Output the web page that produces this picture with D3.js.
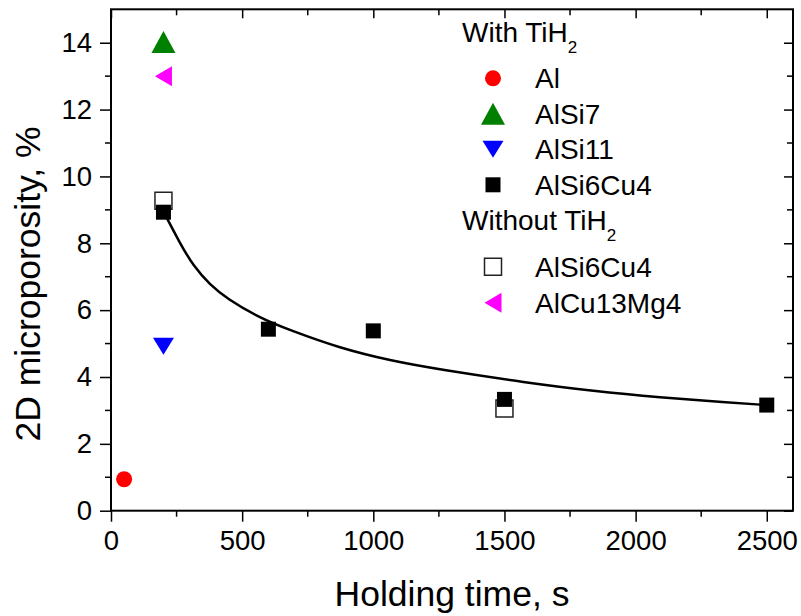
<!DOCTYPE html>
<html>
<head>
<meta charset="utf-8">
<script src="https://cdn.jsdelivr.net/npm/d3@7/dist/d3.min.js"></script>
<style>
  body { margin: 0; background: #fff; }
  text { font-family: 'Liberation Sans', Arial, sans-serif; fill: #000; }
</style>
</head>
<body>
<div id="chart"></div>
<script>
// values
const alTime = [50],       alPor = [0.94];
const alsi7Time = [200],   alsi7Por = [14.02];
const alsi11Time = [200],  alsi11Por = [4.92];
const cu4Time = [200, 600, 1000, 1500, 2500];
const cu4Por  = [8.93, 5.43, 5.38, 3.33, 3.16];
const cu4NoTiTime = [200, 1500];
const cu4NoTiPor  = [9.27, 3.06];
const cuMgTime = [200],    cuMgPor = [13.0];
// fitted curve
const fitTime = [200, 263, 314, 377, 441, 568, 682, 873, 1064, 1254, 1585, 1839, 2093, 2347, 2500];
const fitPor  = [8.95, 8.0, 7.32, 6.76, 6.35, 5.76, 5.40, 4.86, 4.49, 4.22, 3.83, 3.58, 3.39, 3.24, 3.16];

const xMajor = [0, 500, 1000, 1500, 2000, 2500];
const xMinor = [250, 750, 1250, 1750, 2250];
const yMajor = [0, 2, 4, 6, 8, 10, 12, 14];
const yMinor = [1, 3, 5, 7, 9, 11, 13];

const W = 801, H = 616;
const margin = {top: 9.3, right: 8, bottom: 105.3, left: 111},
  width = W - margin.left - margin.right,
  height = H - margin.top - margin.bottom;

const x = d3.scaleLinear().domain([0, 2600]).range([0, width]);
const y = d3.scaleLinear().domain([0, 15]).range([height, 0]);

const svgTop = d3.select('#chart').append('svg')
  .attr('width', W).attr('height', H);
const svg = svgTop.append('g')
  .attr('transform', `translate(${margin.left},${margin.top})`);

// axes: bottom / left ticks outward, top / right inward
const tickFont = 27.5;
const fmt = d3.format('d');
svg.append('g')
  .attr('transform', `translate(0,${height})`)
  .call(d3.axisBottom(x).tickValues(xMajor).tickFormat(fmt).tickSizeInner(11).tickSizeOuter(0).tickPadding(9))
  .call(g => g.append('g').selectAll('line').data(xMinor).join('line')
    .attr('x1', x).attr('x2', x).attr('y1', 0).attr('y2', 6).attr('stroke', '#000'));
svg.append('g')
  .call(d3.axisLeft(y).tickValues(yMajor).tickFormat(fmt).tickSizeInner(11).tickSizeOuter(0).tickPadding(8))
  .call(g => g.append('g').selectAll('line').data(yMinor).join('line')
    .attr('y1', y).attr('y2', y).attr('x1', 0).attr('x2', -6).attr('stroke', '#000'));
svg.append('g')
  .call(d3.axisTop(x).tickValues(xMajor).tickSizeInner(-9).tickSizeOuter(0).tickFormat(''))
  .call(g => g.append('g').selectAll('line').data(xMinor).join('line')
    .attr('x1', x).attr('x2', x).attr('y1', 0).attr('y2', 6).attr('stroke', '#000'));
svg.append('g')
  .attr('transform', `translate(${width},0)`)
  .call(d3.axisRight(y).tickValues(yMajor).tickSizeInner(-9).tickSizeOuter(0).tickFormat(''))
  .call(g => g.append('g').selectAll('line').data(yMinor).join('line')
    .attr('y1', y).attr('y2', y).attr('x1', 0).attr('x2', -6).attr('stroke', '#000'));

svg.selectAll('.domain').remove();
svg.selectAll('line').attr('stroke', '#000').attr('stroke-width', 1.5);
svg.selectAll('.tick text').style('font-size', tickFont + 'px')
  .style('font-family', "'Liberation Sans', Arial, sans-serif").attr('fill', '#000');

svg.append('rect')
  .attr('width', width).attr('height', height)
  .attr('fill', 'none').attr('stroke', '#000').attr('stroke-width', 2);

// axis titles
svgTop.append('text')
  .attr('x', margin.left + width / 2).attr('y', 606)
  .attr('text-anchor', 'middle')
  .style('font-size', '35.5px')
  .text('Holding time, s');
svgTop.append('text')
  .attr('transform', 'translate(40,284) rotate(-90)')
  .attr('text-anchor', 'middle')
  .style('font-size', '35.5px')
  .text('2D microporosity, %');

// marker shapes
function markerPath(kind) {
  const p = d3.path();
  if (kind === 'circle') { p.arc(0, 0, 8, 0, 2 * Math.PI); }
  else if (kind === 'up') { p.moveTo(0, -11); p.lineTo(12, 11); p.lineTo(-12, 11); p.closePath(); }
  else if (kind === 'down') { p.moveTo(-10.5, -8.5); p.lineTo(10.5, -8.5); p.lineTo(0, 8.5); p.closePath(); }
  else if (kind === 'left') { p.moveTo(-8.5, 0); p.lineTo(8.5, -10); p.lineTo(8.5, 10); p.closePath(); }
  else if (kind === 'square') { p.rect(-7.5, -7.5, 15, 15); }
  else if (kind === 'open') { p.rect(-8.5, -8.5, 17, 17); }
  return p.toString();
}

const itemList = [
  {kind: 'circle', fill: '#ff0000', stroke: 'none', xs: alTime, ys: alPor, label: 'Al'},
  {kind: 'up', fill: '#008000', stroke: 'none', xs: alsi7Time, ys: alsi7Por, label: 'AlSi7'},
  {kind: 'down', fill: '#0000ff', stroke: 'none', xs: alsi11Time, ys: alsi11Por, label: 'AlSi11'},
  {kind: 'square', fill: '#000', stroke: 'none', xs: cu4Time, ys: cu4Por, label: 'AlSi6Cu4'},
  {kind: 'open', fill: '#fff', stroke: '#222', xs: cu4NoTiTime, ys: cu4NoTiPor, label: 'AlSi6Cu4'},
  {kind: 'left', fill: '#ff00ff', stroke: 'none', xs: cuMgTime, ys: cuMgPor, label: 'AlCu13Mg4'}
];

// fit curve
const fitData = fitTime.map((t, i) => [t, fitPor[i]]);
svg.append('path')
  .datum(fitData)
  .attr('fill', 'none').attr('stroke', '#000').attr('stroke-width', 2.5)
  .attr('d', d3.line().x(d => x(d[0])).y(d => y(d[1])).curve(d3.curveBasis));

// points: open squares under filled ones
const drawOrder = [4, 0, 1, 2, 5, 3];
drawOrder.forEach(k => {
  const s = itemList[k];
  svg.append('g').selectAll('path')
    .data(s.xs.map((t, i) => [t, s.ys[i]]))
    .join('path')
    .attr('transform', d => `translate(${x(d[0])},${y(d[1])})`)
    .attr('d', markerPath(s.kind))
    .attr('fill', s.fill)
    .attr('stroke', s.stroke).attr('stroke-width', 1.5);
});

// legend
const legend = svgTop.append('g');
const legFont = 28;
function header(yBase, label) {
  const t = legend.append('text').attr('x', 462).attr('y', yBase).style('font-size', legFont + 'px');
  t.append('tspan').text(label);
  t.append('tspan').attr('dy', 11).style('font-size', '17px').text('2');
}
header(42, 'With TiH');
header(230, 'Without TiH');
const rowY = [78.3, 113.8, 149.3, 184.8, 266.7, 302.7];
itemList.forEach((s, i) => {
  legend.append('path')
    .attr('transform', `translate(493,${rowY[i]})`)
    .attr('d', markerPath(s.kind))
    .attr('fill', s.fill).attr('stroke', s.stroke).attr('stroke-width', 1.5);
  legend.append('text')
    .attr('x', 535).attr('y', rowY[i]).attr('dy', '0.35em')
    .style('font-size', legFont + 'px')
    .text(s.label);
});
</script>
</body>
</html>
